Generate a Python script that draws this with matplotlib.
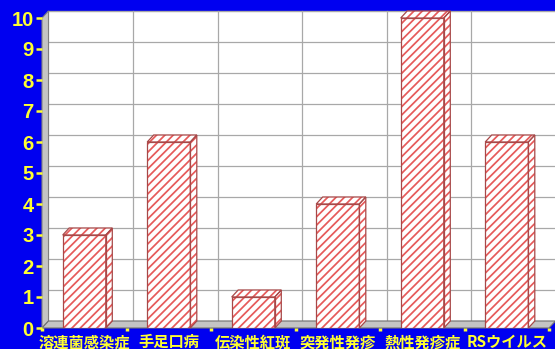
import matplotlib
matplotlib.use("Agg")
import matplotlib.pyplot as plt
from matplotlib.patches import Polygon, Rectangle
import numpy as np

categories = ["溶連菌感染症", "手足口病", "伝染性紅斑", "突発性発疹", "熱性発疹症", "RSウイルス"]
values = [3, 6, 1, 4, 10, 6]
yticks = list(range(0, 11))

BLUE = "#0000f0"
YELLOW = "#ffff30"
HATCH_RED = "#e65a5a"
EDGE_RED = "#a84848"
GRID = "#a8a8a8"
FLOOR = "#c4c4c4"

plt.rcParams['hatch.linewidth'] = 1.25

W, H = 555, 349
fig = plt.figure(figsize=(W / 100, H / 100), dpi=100, facecolor=BLUE)
# front plane: x 42..549 px, y 18..328 px (from top)
ax = fig.add_axes([42 / W, (H - 328) / H, 507 / W, 310 / H])
ax.set_xlim(-0.5, len(categories) - 0.5)
ax.set_ylim(0, 10)
ax.set_facecolor("none")
ax.patch.set_visible(False)
for s in ax.spines.values():
    s.set_visible(False)

fig.canvas.draw()
# depth offset in data units from a pixel offset
p0 = ax.transData.transform((0, 0))
inv = ax.transData.inverted()
dpx, dpy = 6.5, 7.0
d1 = inv.transform((p0[0] + dpx, p0[1] + dpy))
dx, dy = d1[0], d1[1]

n = len(categories)
x0, x1 = -0.5, n - 0.5

# back wall
ax.add_patch(Rectangle((x0 + dx, dy), x1 - x0, 10, facecolor="white",
                       edgecolor="#909090", lw=0.8, clip_on=False, zorder=0))
for k in yticks[1:]:
    ax.plot([x0 + dx, x1 + dx], [k + dy, k + dy], color=GRID, lw=0.9,
            clip_on=False, zorder=0.5)
for i in range(n):
    xv = i + 0.5 + dx
    ax.plot([xv, xv], [dy, 10 + dy], color=GRID, lw=0.9, clip_on=False, zorder=0.5)

# left side wall
ax.add_patch(Polygon([(x0, 0), (x0 + dx, dy), (x0 + dx, 10 + dy), (x0, 10)],
                     closed=True, facecolor=FLOOR, edgecolor="#808080", lw=0.8,
                     clip_on=False, zorder=0.6))
# floor
ax.add_patch(Polygon([(x0, 0), (x1, 0), (x1 + dx, dy), (x0 + dx, dy)],
                     closed=True, facecolor=FLOOR, edgecolor="#707070", lw=0.8,
                     clip_on=False, zorder=0.6))

bw = 0.51
xs = np.arange(n)
ax.bar(xs, values, width=bw, facecolor="white", edgecolor=HATCH_RED,
       hatch="////", lw=0, zorder=2)
ax.bar(xs, values, width=bw, facecolor="none", edgecolor=EDGE_RED, lw=0.9, zorder=3)
for xc, v in zip(xs, values):
    l, r = xc - bw / 2, xc + bw / 2
    top = [(l, v), (r, v), (r + dx, v + dy), (l + dx, v + dy)]
    side = [(r, 0), (r + dx, dy), (r + dx, v + dy), (r, v)]
    for poly in (top, side):
        ax.add_patch(Polygon(poly, closed=True, facecolor="white", edgecolor=HATCH_RED,
                             hatch="////", lw=0, clip_on=False, zorder=2))
        ax.add_patch(Polygon(poly, closed=True, facecolor="none", edgecolor=EDGE_RED,
                             lw=0.9, clip_on=False, zorder=3))

# y axis
ax.set_yticks(yticks)
ax.set_yticklabels([str(t) for t in yticks], color=YELLOW, fontsize=14.5,
                   fontweight="bold", family=["Liberation Sans", "DejaVu Sans"])
ax.tick_params(axis="y", colors=YELLOW, length=4.5, width=1.8, pad=1.5)

# x axis
ax.set_xticks(xs)
ax.set_xticklabels(categories, color=YELLOW, fontsize=11, fontweight="bold",
                   family=["Noto Sans CJK JP", "DejaVu Sans"])
ax.tick_params(axis="x", which="major", length=0, pad=4.5)
ax.set_xticks(np.arange(n + 1) - 0.5, minor=True)
ax.tick_params(axis="x", which="minor", colors=YELLOW, length=2.5, width=2.5)

fig.savefig("out.png", dpi=100, facecolor=BLUE)
